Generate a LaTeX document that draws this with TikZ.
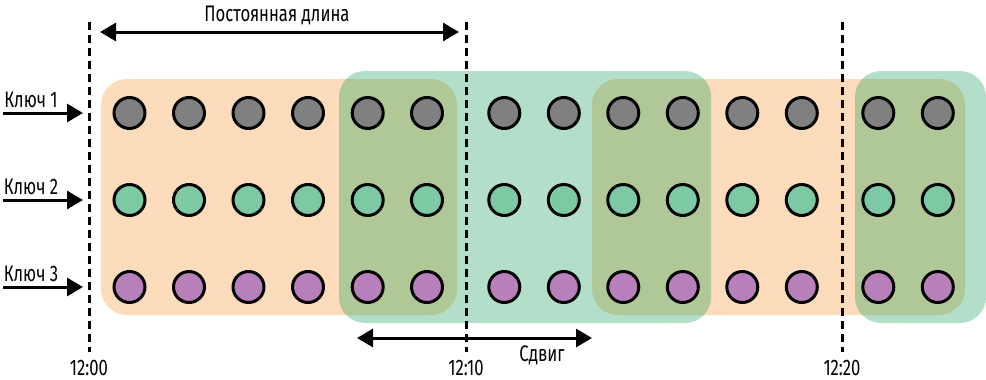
\documentclass[tikz,border=0pt]{standalone}
\usepackage{fontspec}
\setmainfont{Fira Sans}[FakeStretch=0.74]
\usetikzlibrary{arrows.meta}
\definecolor{peach}{RGB}{253,220,187}
\definecolor{teal}{RGB}{178,222,202}
\definecolor{olive}{RGB}{176,199,152}
\definecolor{kgray}{RGB}{128,128,128}
\definecolor{kgreen}{RGB}{125,201,163}
\definecolor{kpurple}{RGB}{184,128,186}
\begin{document}
\begin{tikzpicture}[x=1pt,y=-1pt,
  dot/.style={circle,draw=black,line width=3pt,minimum size=31pt,inner sep=0pt},
  win/.style={rounded corners=26pt},
  tline/.style={dashed,dash pattern=on 8pt off 5pt,line width=3pt},
  arr/.style={line width=3pt,-{Triangle[length=16pt,width=18pt]}},
  darr/.style={line width=3pt,{Triangle[length=16pt,width=18pt]}-{Triangle[length=16pt,width=18pt]}},
  lbl/.style={inner sep=0pt,font=\fontsize{22.5}{26}\selectfont}]
\useasboundingbox (0,0) rectangle (986,380);
% windows
\fill[peach,win] (101,79) rectangle (457,315);
\fill[peach,win] (592,79) rectangle (965,315);
\fill[teal,win] (339,71) rectangle (711,323);
\fill[teal,win] (855,71) rectangle (986,323);
\begin{scope}
  \clip[win] (339,71) rectangle (711,323);
  \fill[olive,win] (101,79) rectangle (457,315);
  \fill[olive,win] (592,79) rectangle (965,315);
\end{scope}
\begin{scope}
  \clip[win] (855,71) rectangle (986,323);
  \fill[olive,win] (592,79) rectangle (965,315);
\end{scope}
% time lines
\coordinate (t0a) at (89,22); \coordinate (t0b) at (89,352);
\coordinate (t1a) at (466,22); \coordinate (t1b) at (466,352);
\coordinate (t2a) at (842,22); \coordinate (t2b) at (842,352);
\draw[tline] (t0a) -- (t0b);
\draw[tline] (t1a) -- (t1b);
\draw[tline] (t2a) -- (t2b);
\node[lbl] (l0) at (89,368) {12:00};
\node[lbl] (l1) at (466,368) {12:10};
\node[lbl] (l2) at (842,368) {12:20};
% top arrow
\coordinate (pl) at (100,32); \coordinate (pr) at (459,32);
\draw[darr] (pl) -- (pr);
\node[lbl] (plen) at (277,15) {Постоянная длина};
% shift arrow
\coordinate (sl) at (357,338); \coordinate (sr) at (592,338);
\draw[darr] (sl) -- (sr);
\node[lbl] (shift) at (542,355) {Сдвиг};
% keys
\foreach \y/\k in {113/1,200/2,287/3}{
  \coordinate (s\k) at (3,\y); \coordinate (e\k) at (83,\y);
  \draw[arr] (s\k) -- (e\k);
  \node[lbl] (key\k) at (31,\y-13) {Ключ \k};
}
% dots
\foreach \x [count=\i] in {129.5,189,248.5,308,367.7,427,504.3,563.8,623.3,682.8,742.3,801.8,878.3,937.8}{
  \node[dot,fill=kgray] (a\i) at (\x,113) {};
  \node[dot,fill=kgreen] (b\i) at (\x,200) {};
  \node[dot,fill=kpurple] (c\i) at (\x,287) {};
}
\end{tikzpicture}
\end{document}
